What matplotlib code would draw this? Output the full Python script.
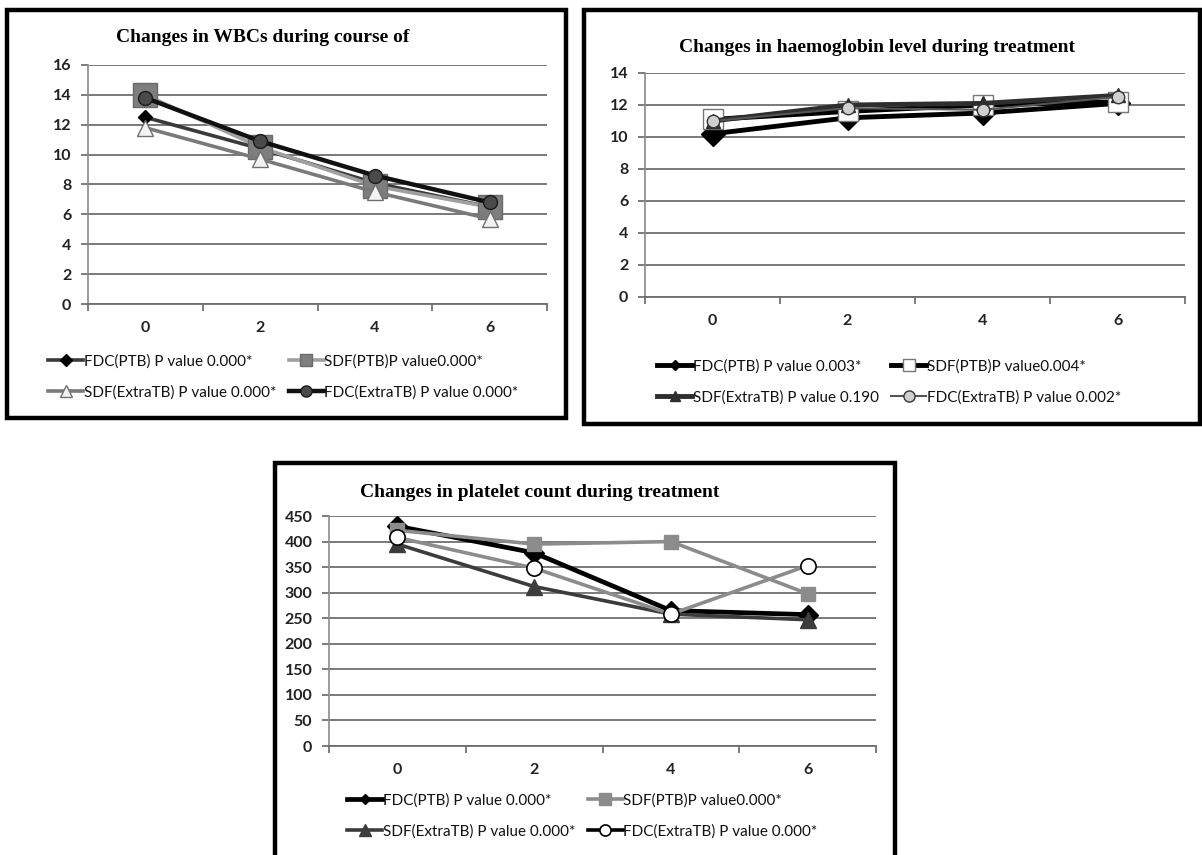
import matplotlib
matplotlib.use('Agg')
import matplotlib.pyplot as plt
from matplotlib.patches import Rectangle
from matplotlib.lines import Line2D

W, H = 1202, 855

weeks = ['0', '2', '4', '6']

# WBC counts
wbc_fdc_ptb = [12.5, 10.4, 8.1, 6.5]
wbc_sdf_ptb = [14.0, 10.5, 7.9, 6.5]
wbc_sdf_extra = [11.8, 9.7, 7.5, 5.7]
wbc_fdc_extra = [13.8, 10.9, 8.6, 6.8]
wbc_labels = ['FDC(PTB) P value 0.000*', 'SDF(PTB)P value0.000*',
              'SDF(ExtraTB) P value 0.000*', 'FDC(ExtraTB) P value 0.000*']

# haemoglobin
hb_fdc_ptb = [10.2, 11.2, 11.5, 12.1]
hb_sdf_ptb = [11.1, 11.6, 12.0, 12.2]
hb_sdf_extra = [11.0, 12.0, 12.1, 12.6]
hb_fdc_extra = [11.0, 11.8, 11.7, 12.5]
hb_labels = ['FDC(PTB) P value 0.003*', 'SDF(PTB)P value0.004*',
             'SDF(ExtraTB) P value 0.190', 'FDC(ExtraTB) P value 0.002*']

# platelets
plt_fdc_ptb = [430, 378, 265, 257]
plt_sdf_ptb = [422, 395, 400, 298]
plt_sdf_extra = [395, 312, 258, 247]
plt_fdc_extra = [408, 348, 258, 353]
plt_labels = ['FDC(PTB) P value 0.000*', 'SDF(PTB)P value0.000*',
              'SDF(ExtraTB) P value 0.000*', 'FDC(ExtraTB) P value 0.000*']

SANS = 'Lato'
SERIF = 'Liberation Serif'


def fx(px):
    return px / W


def fy(py):
    return 1 - py / H


def make_axes(fig, left, right, top, bottom):
    return fig.add_axes([fx(left), fy(bottom), fx(right) - fx(left), fy(top) - fy(bottom)])


def style_axes(ax, ymax, ystep):
    x = range(len(weeks))
    ax.set_xlim(-0.5, len(weeks) - 0.5)
    ax.set_ylim(0, ymax)
    ax.set_yticks(range(0, ymax + 1, ystep))
    ax.set_xticks([i - 0.5 for i in range(len(weeks) + 1)])
    ax.set_xticklabels([])
    ax.set_xticks(list(x), minor=True)
    ax.set_xticklabels(weeks, minor=True)
    ax.tick_params(axis='x', which='major', direction='out', length=5, color='#666666', width=1.2)
    ax.tick_params(axis='x', which='minor', length=0, pad=12, labelsize=11.5)
    ax.tick_params(axis='y', direction='out', length=5, color='#666666', width=1.2, pad=7, labelsize=11.5)
    for lab in ax.get_xticklabels(minor=True) + ax.get_yticklabels():
        lab.set_family(SANS)
        lab.set_fontweight('bold')
        lab.set_color('#222222')
    ax.grid(axis='y', color='#6e6e6e', linewidth=1.3)
    ax.set_axisbelow(True)
    for s in ['top', 'right']:
        ax.spines[s].set_visible(False)
    ax.spines['left'].set_color('#8a8a8a')
    ax.spines['bottom'].set_color('#6e6e6e')
    ax.spines['left'].set_linewidth(1.2)
    ax.spines['bottom'].set_linewidth(1.3)


def draw_series(ax, values, style):
    ax.plot(range(len(values)), values, **style)


def add_legend(fig, styles, labels, x, y, legend_ms, legend_colors=None):
    # two columns: left column gets entries 0 and 2, right column 1 and 3
    order = [0, 2, 1, 3]
    handles = []
    for i in order:
        st = dict(styles[i])
        st['ms'] = legend_ms[i]
        if legend_colors and legend_colors[i]:
            st['color'] = legend_colors[i]
        handles.append(Line2D([0], [0], **st))
    leg = fig.legend(handles, [labels[i] for i in order], ncol=2, loc='upper left',
                     bbox_to_anchor=(fx(x), fy(y)), frameon=False, borderpad=0,
                     borderaxespad=0, handlelength=2.3, handletextpad=0.05,
                     columnspacing=0.8, labelspacing=1.1,
                     prop={'family': SANS, 'size': 11})
    for t in leg.get_texts():
        t.set_color('#111111')
    return leg


def add_box(fig, left, right, top, bottom):
    fig.add_artist(Rectangle((fx(left), fy(bottom)), fx(right) - fx(left), fy(top) - fy(bottom),
                             transform=fig.transFigure, fill=False, ec='black', lw=3.2))


fig = plt.figure(figsize=(W / 100, H / 100), dpi=100)
fig.patch.set_facecolor('white')

# ---- WBC panel
add_box(fig, 7, 566, 10, 418)
ax1 = make_axes(fig, 88, 547, 65, 304)
style_axes(ax1, 16, 2)
wbc_styles = [
    dict(color='#3a3a3a', lw=2.6, marker='D', ms=7, mfc='black', mec='black'),
    dict(color='#a0a0a0', lw=2.6, marker='s', ms=17, mfc='#7e7e7e', mec='#6a6a6a'),
    dict(color='#7a7a7a', lw=2.6, marker='^', ms=12, mfc='#f2f2f2', mec='#707070'),
    dict(color='#111111', lw=3.2, marker='o', ms=10, mfc='#4a4a4a', mec='#1a1a1a'),
]
for vals, st in zip([wbc_fdc_ptb, wbc_sdf_ptb, wbc_sdf_extra, wbc_fdc_extra], wbc_styles):
    draw_series(ax1, vals, st)
fig.text(fx(263), fy(37), 'Changes in WBCs during course of', family=SERIF,
         fontweight='bold', fontsize=14, ha='center', va='center')
add_legend(fig, wbc_styles, wbc_labels, 48, 354, [6, 8, 8, 8])

# ---- haemoglobin panel
add_box(fig, 584, 1200, 10, 424)
ax2 = make_axes(fig, 645, 1185, 73, 297)
style_axes(ax2, 14, 2)
hb_styles = [
    dict(color='black', lw=3.5, marker='D', ms=12, mfc='black', mec='black'),
    dict(color='black', lw=3.5, marker='s', ms=14, mfc='white', mec='#777777'),
    dict(color='#2e2e2e', lw=3.5, marker='^', ms=10, mfc='#2e2e2e', mec='#2e2e2e'),
    dict(color='#555555', lw=1.5, marker='o', ms=9, mfc='#cfcfcf', mec='#333333'),
]
for vals, st in zip([hb_fdc_ptb, hb_sdf_ptb, hb_sdf_extra, hb_fdc_extra], hb_styles):
    draw_series(ax2, vals, st)
fig.text(fx(877), fy(48), 'Changes in haemoglobin level during treatment', family=SERIF,
         fontweight='bold', fontsize=14, ha='center', va='center')
add_legend(fig, hb_styles, hb_labels, 657, 359, [5, 9, 7, 8])

# ---- platelet panel
add_box(fig, 275, 895, 463, 880)
ax3 = make_axes(fig, 329, 876, 516, 746)
style_axes(ax3, 450, 50)
plt_styles = [
    dict(color='black', lw=3.4, marker='D', ms=10, mfc='black', mec='black'),
    dict(color='#8c8c8c', lw=2.6, marker='s', ms=10, mfc='#8c8c8c', mec='#8c8c8c'),
    dict(color='#3c3c3c', lw=2.6, marker='^', ms=11, mfc='#3c3c3c', mec='#3c3c3c'),
    dict(color='#8c8c8c', lw=2.6, marker='o', ms=11, mfc='white', mec='black', mew=1.2),
]
for vals, st in zip([plt_fdc_ptb, plt_sdf_ptb, plt_sdf_extra, plt_fdc_extra], plt_styles):
    draw_series(ax3, vals, st)
fig.text(fx(540), fy(492), 'Changes in platelet count during treatment', family=SERIF,
         fontweight='bold', fontsize=14, ha='center', va='center')
add_legend(fig, plt_styles, plt_labels, 347, 793, [5, 8, 8, 8],
           legend_colors=[None, None, None, 'black'])

fig.savefig('out.png', dpi=100, facecolor='white')
